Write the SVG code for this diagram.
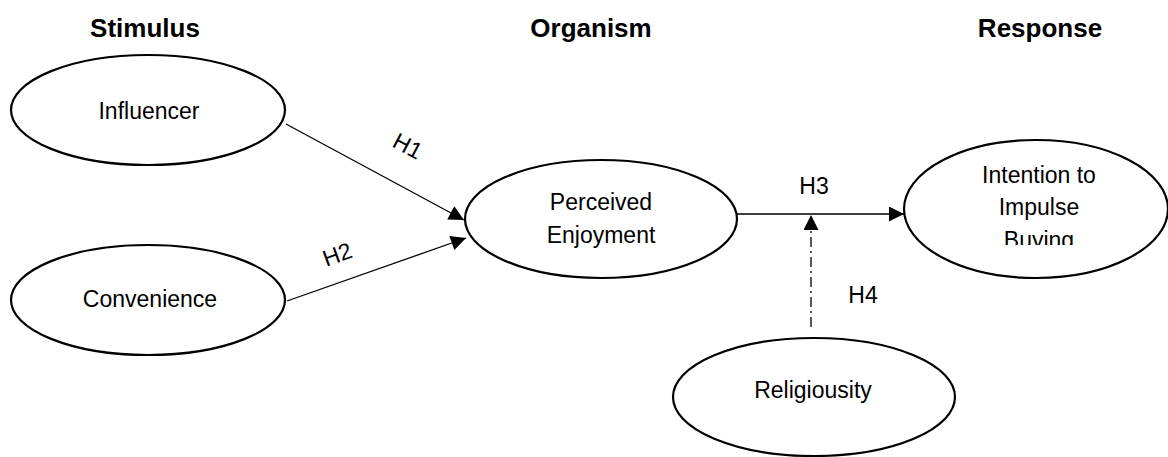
<svg xmlns="http://www.w3.org/2000/svg" width="1168" height="457" viewBox="0 0 1168 457">
<style>
.node ellipse{fill:#fff;stroke:#000;stroke-width:2.2}
.lbl{font-family:"Liberation Sans",Arial,sans-serif;font-size:23px;fill:#000;text-anchor:middle}
.hdr{font-family:"Liberation Sans",Arial,sans-serif;font-size:26px;font-weight:bold;fill:#000;text-anchor:middle}
.edge{stroke:#000;stroke-width:1.3;fill:none}
</style>
<defs>
<marker id="arr" viewBox="0 0 10 10" refX="10" refY="5" markerWidth="16" markerHeight="15" markerUnits="userSpaceOnUse" orient="auto">
<path d="M0,0 L10,5 L0,10 z" fill="#000"/>
</marker>
<clipPath id="clipBuy"><rect x="900" y="100" width="268" height="145"/></clipPath>
</defs>
<rect width="1168" height="457" fill="#fff"/>
<g id="headers">
<text class="hdr" x="145" y="37">Stimulus</text>
<text class="hdr" x="591" y="37">Organism</text>
<text class="hdr" x="1040" y="37">Response</text>
</g>
<g id="connectors">
<line class="edge" x1="286" y1="124" x2="464" y2="220" marker-end="url(#arr)"/>
<line class="edge" x1="287" y1="301" x2="466" y2="238" marker-end="url(#arr)"/>
<line class="edge" x1="737" y1="214" x2="904" y2="214" marker-end="url(#arr)"/>
<line class="edge" x1="811" y1="327" x2="811" y2="215" stroke-dasharray="10,4,2,4" marker-end="url(#arr)"/>
<text class="lbl" transform="translate(404,153) rotate(28)">H1</text>
<text class="lbl" transform="translate(340,262) rotate(-20)">H2</text>
<text class="lbl" x="814" y="194">H3</text>
<text class="lbl" x="863" y="303">H4</text>
</g>
<g id="influencer" class="node">
<ellipse cx="148" cy="110" rx="137" ry="55"/>
<text class="lbl" x="149" y="119">Influencer</text>
</g>
<g id="convenience" class="node">
<ellipse cx="148" cy="300" rx="137" ry="55"/>
<text class="lbl" x="150" y="307">Convenience</text>
</g>
<g id="perceived" class="node">
<ellipse cx="601" cy="219" rx="136" ry="59"/>
<text class="lbl" x="601" y="210">Perceived</text>
<text class="lbl" x="601" y="243">Enjoyment</text>
</g>
<g id="intention" class="node">
<ellipse cx="1036" cy="209" rx="132" ry="69"/>
<text class="lbl" x="1039" y="183">Intention to</text>
<text class="lbl" x="1039" y="215">Impulse</text>
<text class="lbl" x="1039" y="248" clip-path="url(#clipBuy)">Buying</text>
</g>
<g id="religiousity" class="node">
<ellipse cx="814" cy="397" rx="141" ry="59"/>
<text class="lbl" x="813" y="398">Religiousity</text>
</g>
</svg>
